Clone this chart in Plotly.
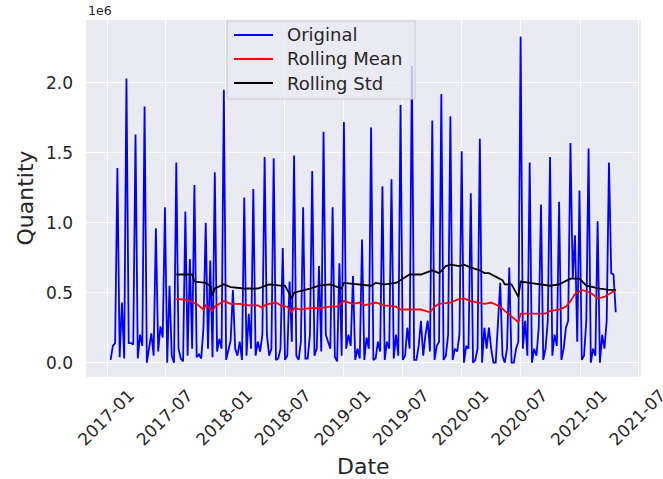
import pandas as pd
import plotly.graph_objects as go

# ---- data (values in units of 1e6) ----
start_date = "2017-01-11"
original = [
    0.02, 0.12, 0.14, 1.39, 0.04, 0.43, 0.03, 2.03, 0.14, 0.14,
    0.13, 1.63, 0.03, 0.20, 0.12, 1.83, 0.00, 0.10, 0.21, 0.05,
    0.96, 0.08, 0.26, 0.18, 1.11, 0.00, 0.55, 0.05, 0.00, 1.43,
    0.10, 0.03, 0.01, 1.08, 0.05, 0.74, 0.10, 1.27, 0.04, 0.06,
    0.03, 0.25, 1.00, 0.10, 0.73, 0.04, 1.36, 0.08, 0.17, 0.10,
    1.95, 0.02, 0.10, 0.16, 0.52, 0.10, 0.05, 0.15, 0.02, 1.18,
    0.05, 0.35, 0.10, 1.24, 0.05, 0.15, 0.08, 0.20, 1.47, 0.20,
    0.05, 0.10, 1.46, 0.02, 0.03, 0.10, 0.82, 0.02, 0.05, 0.58,
    0.15, 1.48, 0.05, 0.02, 0.15, 1.11, 0.03, 0.03, 0.20, 1.37,
    0.05, 0.10, 0.69, 0.08, 1.65, 0.20, 0.15, 0.10, 1.11, 0.04,
    0.01, 0.71, 0.05, 1.72, 0.10, 0.20, 0.12, 0.62, 0.02, 0.10,
    0.03, 0.88, 0.02, 0.18, 0.10, 1.68, 0.02, 0.03, 0.15, 0.08,
    1.26, 0.02, 0.15, 0.10, 1.31, 0.03, 0.20, 0.05, 1.84, 0.02,
    0.05, 0.25, 0.10, 2.12, 0.02, 0.02, 0.12, 0.30, 0.05, 0.20,
    0.30, 0.08, 1.73, 0.02, 0.12, 0.15, 1.92, 0.02, 0.05, 0.20,
    1.76, 0.02, 0.10, 0.08, 0.20, 1.51, 0.00, 0.12, 0.10, 1.21,
    0.00, 0.02, 0.10, 1.60, 0.00, 0.25, 0.10, 0.25, 0.10, 0.00,
    0.00, 0.30, 0.57, 0.05, 0.00, 0.10, 0.68, 0.00, 0.00, 0.10,
    0.15, 2.33, 0.10, 0.30, 0.05, 1.43, 0.00, 0.10, 0.05, 0.25,
    1.13, 0.02, 0.10, 0.30, 1.47, 0.05, 0.20, 0.12, 1.15, 0.02,
    0.10, 0.25, 0.30, 1.57, 0.60, 0.91, 0.15, 1.23, 0.02, 0.05,
    0.30, 1.53, 0.00, 0.10, 0.05, 1.01, 0.00, 0.20, 0.10, 0.30,
    1.43, 0.64, 0.63, 0.36,
]

mean_weeks = [29, 33, 35, 38, 41, 42, 43, 45, 46, 50, 53, 57, 61, 65, 67, 68, 70, 73,
              75, 78, 80, 81, 84, 88, 92, 97, 100, 103, 107, 110, 112, 117, 121, 126,
              128, 132, 137, 141, 143, 145, 150, 153, 156, 159, 163, 165, 168, 172,
              174, 177, 180, 181, 185, 192, 194, 198, 201, 203, 205, 208, 212, 215,
              218, 220, 223]
rolling_mean = [0.455, 0.45, 0.44, 0.42, 0.38, 0.41, 0.40, 0.37, 0.40, 0.44, 0.42, 0.42,
                0.41, 0.41, 0.39, 0.41, 0.42, 0.43, 0.41, 0.40, 0.36, 0.39, 0.38, 0.39,
                0.39, 0.40, 0.40, 0.44, 0.42, 0.43, 0.41, 0.43, 0.41, 0.40, 0.38, 0.38,
                0.38, 0.36, 0.40, 0.42, 0.43, 0.45, 0.46, 0.44, 0.43, 0.42, 0.43, 0.40,
                0.37, 0.33, 0.29, 0.35, 0.35, 0.35, 0.37, 0.38, 0.40, 0.44, 0.49, 0.52,
                0.50, 0.46, 0.47, 0.49, 0.52]

std_weeks = [29, 36, 37, 42, 44, 45, 46, 50, 53, 59, 65, 68, 70, 75, 77, 80, 81, 88, 92,
             97, 102, 103, 110, 115, 117, 121, 126, 128, 132, 137, 142, 145, 148, 150,
             154, 156, 159, 163, 165, 167, 173, 174, 177, 180, 181, 185, 190, 194, 198,
             203, 207, 210, 216, 220, 223]
rolling_std = [0.63, 0.63, 0.58, 0.57, 0.55, 0.48, 0.53, 0.56, 0.54, 0.53, 0.53, 0.55,
               0.56, 0.55, 0.55, 0.46, 0.50, 0.53, 0.55, 0.56, 0.53, 0.57, 0.56, 0.55,
               0.57, 0.56, 0.57, 0.59, 0.63, 0.63, 0.66, 0.64, 0.69, 0.70, 0.69, 0.70,
               0.68, 0.66, 0.64, 0.64, 0.59, 0.56, 0.56, 0.47, 0.58, 0.57, 0.56, 0.55,
               0.56, 0.60, 0.60, 0.55, 0.53, 0.52, 0.52]

series_names = ["Original", "Rolling Mean", "Rolling Std"]
series_colors = ["blue", "red", "black"]

tick_dates = ["2017-01-01", "2017-07-01", "2018-01-01", "2018-07-01", "2019-01-01",
              "2019-07-01", "2020-01-01", "2020-07-01", "2021-01-01", "2021-07-01"]
tick_labels = ["2017-01", "2017-07", "2018-01", "2018-07", "2019-01",
               "2019-07", "2020-01", "2020-07", "2021-01", "2021-07"]
y_ticks = [0.0, 0.5, 1.0, 1.5, 2.0]
y_labels = ["0.0", "0.5", "1.0", "1.5", "2.0"]

SCALE = 1e6
dates = pd.date_range(start_date, periods=len(original), freq="7D")

fig = go.Figure()
fig.add_trace(go.Scatter(x=dates, y=[v * SCALE for v in original], mode="lines",
                         name=series_names[0], line=dict(color=series_colors[0], width=1.8)))
fig.add_trace(go.Scatter(x=[dates[i] for i in mean_weeks], y=[v * SCALE for v in rolling_mean],
                         mode="lines", name=series_names[1],
                         line=dict(color=series_colors[1], width=1.8)))
fig.add_trace(go.Scatter(x=[dates[i] for i in std_weeks], y=[v * SCALE for v in rolling_std],
                         mode="lines", name=series_names[2],
                         line=dict(color=series_colors[2], width=1.8)))

font_color = "#262626"

# ---- matplotlib-style legend box (built from shapes + annotations) ----
PL, PR, PT, PB = 86, 641, 20, 377   # plot-area pixel edges


def px_x(p):
    return (p - PL) / (PR - PL)


def px_y(p):
    return (PB - p) / (PB - PT)


shapes = [dict(type="rect", xref="paper", yref="paper", layer="above",
               x0=px_x(227), x1=px_x(415), y0=px_y(99), y1=px_y(21),
               fillcolor="rgba(234,234,242,0.8)", line=dict(color="#CCCCCC", width=1))]
annotations = []
row_y = [35, 59, 83]
for name, color, ry in zip(series_names, series_colors, row_y):
    shapes.append(dict(type="line", xref="paper", yref="paper", layer="above",
                       x0=px_x(234), x1=px_x(273), y0=px_y(ry), y1=px_y(ry),
                       line=dict(color=color, width=1.8)))
    annotations.append(dict(text=name, xref="paper", yref="paper", x=px_x(285), y=px_y(ry),
                            xanchor="left", yanchor="middle", showarrow=False,
                            font=dict(size=18, color=font_color)))

annotations += [
    dict(text="1e6", xref="paper", yref="paper", x=0.0, y=1.0, xanchor="left",
         yanchor="bottom", showarrow=False, font=dict(size=12.5, color=font_color)),
    dict(text="Date", xref="paper", yref="paper", x=0.5, y=px_y(466), xanchor="center",
         yanchor="middle", showarrow=False, font=dict(size=22, color=font_color)),
    dict(text="Quantity", xref="paper", yref="paper", x=px_x(25), y=0.5, xanchor="center",
         yanchor="middle", textangle=-90, showarrow=False,
         font=dict(size=22, color=font_color)),
]

fig.update_layout(
    width=663, height=479,
    margin=dict(l=PL, r=663 - PR, t=PT, b=479 - PB, autoexpand=False),
    paper_bgcolor="white", plot_bgcolor="#EAEAF2",
    font=dict(family="DejaVu Sans", color=font_color),
    showlegend=False,
    xaxis=dict(type="date", range=["2016-10-27", "2021-07-08"],
               tickmode="array", tickvals=tick_dates, ticktext=tick_labels,
               tickangle=-45, tickfont=dict(size=17, color=font_color),
               showgrid=True, gridcolor="white", gridwidth=1.2,
               zeroline=False, showline=False, ticks="", automargin=False,
               ticklabelshift=22, ticklabelstandoff=4, ticklabeloverflow="allow"),
    yaxis=dict(range=[-0.102 * SCALE, 2.448 * SCALE],
               tickmode="array", tickvals=[v * SCALE for v in y_ticks], ticktext=y_labels,
               tickfont=dict(size=17, color=font_color), automargin=False,
               showgrid=True, gridcolor="white", gridwidth=1.2,
               zeroline=False, showline=False, ticks="", ticklabelstandoff=12),
    shapes=shapes,
    annotations=annotations,
)

fig.write_html("out.html")
